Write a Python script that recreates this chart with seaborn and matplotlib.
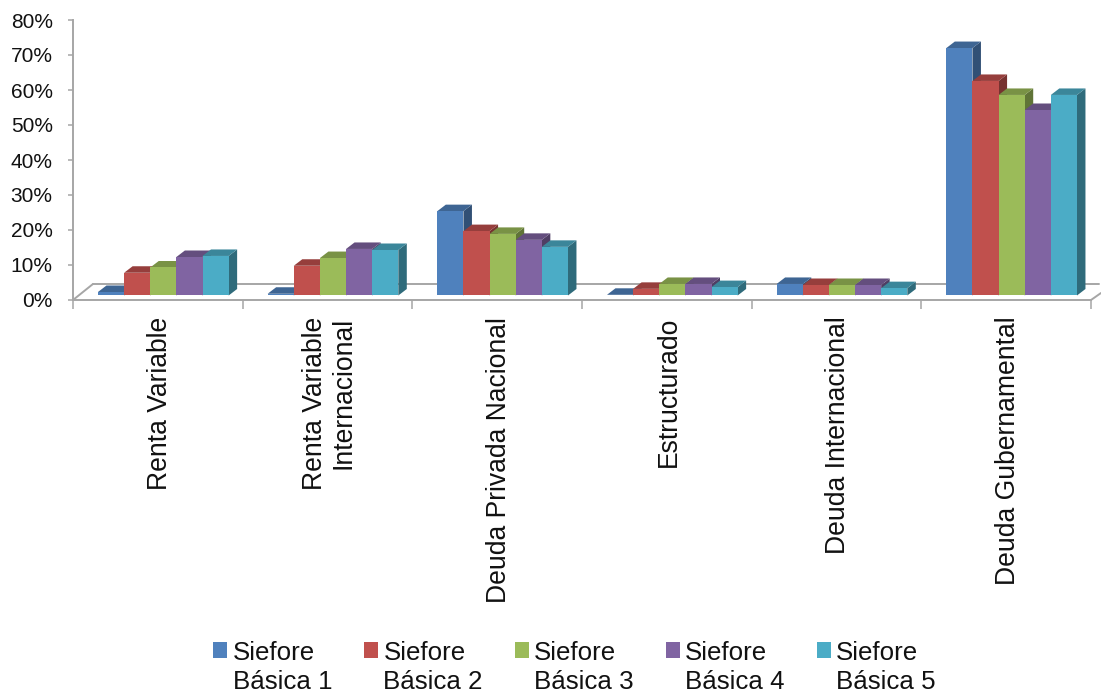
import pandas as pd
import matplotlib
matplotlib.use('Agg')
import matplotlib.pyplot as plt
import seaborn as sns

categories = ['Renta Variable', 'Renta Variable\nInternacional', 'Deuda Privada Nacional',
              'Estructurado', 'Deuda Internacional', 'Deuda Gubernamental']
series = ['Siefore\nBásica 1', 'Siefore\nBásica 2', 'Siefore\nBásica 3', 'Siefore\nBásica 4', 'Siefore\nBásica 5']
basica1 = [1.0, 0.5, 24.1, 0.2, 3.3, 70.7]
basica2 = [6.5, 8.5, 18.4, 1.9, 3.0, 61.3]
basica3 = [8.0, 10.7, 17.6, 3.3, 3.0, 57.3]
basica4 = [11.0, 13.3, 15.9, 3.3, 3.0, 53.0]
basica5 = [11.3, 13.0, 13.9, 2.4, 2.1, 57.3]
colors = ['#4F81BD', '#C0504D', '#9BBB59', '#8064A2', '#4BACC6']
yticks = [0, 10, 20, 30, 40, 50, 60, 70, 80]

W, H = 1101, 692
GREY = '#A6A6A6'
# sizes of the fake 3d in pixels
PX_X = 170.0   # one category
PX_Y = 3.5     # one percent
DEPTH_X = 8.5
DEPTH_Y = 6.5
LIFT = 4.5 / PX_Y  # bars stand a little behind the front edge of the floor
X0 = -(163.5 - 73) / PX_X


def shade(col, f):
    r, g, b = matplotlib.colors.to_rgb(col)
    return (r * f, g * f, b * f)


rows = []
for name, vals in zip(series, [basica1, basica2, basica3, basica4, basica5]):
    for cat, v in zip(categories, vals):
        rows.append({'cat': cat, 'serie': name, 'val': v})
df = pd.DataFrame(rows)

sns.set_style('white')
plt.rcParams['font.family'] = ['Liberation Sans', 'DejaVu Sans']
fig = plt.figure(figsize=(W / 100, H / 100), dpi=100)
ax = fig.add_axes([73 / W, 1 - 300 / H, (1091 - 73) / W, 280 / H])
sns.barplot(data=df, x='cat', y='val', hue='serie', palette=colors, saturation=1,
            width=0.77, gap=0, linewidth=0, ax=ax, zorder=20)

ax.set_xlim(X0, X0 + 6)
ax.set_ylim(0, 80)
dx = DEPTH_X / PX_X
dy = DEPTH_Y / PX_Y

# sides and tops, left to right so that the next bar covers the previous side
bars = []
for cont in ax.containers:
    for p in cont:
        bars.append(p)
bars.sort(key=lambda p: p.get_x())
for i, p in enumerate(bars):
    p.set_y(LIFT)
    col = p.get_facecolor()
    x, w, h = p.get_x(), p.get_width(), p.get_height()
    y0, y1 = LIFT, LIFT + h
    z = 5 + i * 0.01
    ax.fill([x + w, x + w + dx, x + w + dx, x + w], [y0, y0 + dy, y1 + dy, y1],
            color=shade(col[:3], 0.62), lw=0, zorder=z, clip_on=False)
    ax.fill([x, x + dx, x + w + dx, x + w], [y1, y1 + dy, y1 + dy, y1],
            color=shade(col[:3], 0.78), lw=0, zorder=z, clip_on=False)

# floor
back = (300 - 284) / PX_Y
ax.plot([X0 + 20 / PX_X, X0 + (1101 - 73) / PX_X], [back, back], color=GREY, lw=1.4, zorder=1, clip_on=False)
ax.plot([X0, X0 + 20 / PX_X], [0, back], color=GREY, lw=1.4, zorder=1, clip_on=False)
ax.plot([X0 + 6, X0 + 6 + 10 / PX_X], [0, 7 / PX_Y], color=GREY, lw=1.4, zorder=1, clip_on=False)

sns.despine(ax=ax)
ax.spines['left'].set_color(GREY)
ax.spines['bottom'].set_color(GREY)
ax.spines['left'].set_linewidth(1.4)
ax.spines['bottom'].set_linewidth(1.4)

ax.set_yticks(yticks)
ax.set_yticklabels([f'{t}%' for t in yticks], fontsize=15, color='#111111')
ax.tick_params(axis='y', left=True, length=3.6, width=1.1, color=GREY, pad=11)

# labels on the centre of each category, ticks on the edges
ax.set_xticks([X0 + i + 0.5 + 2 / PX_X for i in range(6)])
ax.set_xticklabels(categories, rotation=90, fontsize=19.1, color='#111111', ha='center', va='top',
                   multialignment='right', linespacing=1.1)
ax.tick_params(axis='x', bottom=False, length=0, pad=12)
ax.set_xticks([X0 + i for i in range(7)], minor=True)
ax.tick_params(axis='x', which='minor', bottom=True, length=6.5, width=1.1, color=GREY)
ax.set_xlabel('')
ax.set_ylabel('')

handles, labels = ax.get_legend_handles_labels()
leg = ax.legend(handles, labels, ncol=5, frameon=False, fontsize=18.6, loc='center',
                bbox_to_anchor=(574.5 / W, 1 - 667.5 / H), bbox_transform=fig.transFigure,
                borderpad=0, borderaxespad=0, handlelength=0.55, handleheight=0.55,
                handletextpad=0.2, columnspacing=1.24, labelspacing=0, labelcolor='#111111')
for t in leg.get_texts():
    t.set_linespacing(1.25)
for h in leg.legend_handles:
    h.set_y(h.get_y() + 13)

fig.savefig('out.png', dpi=100)
plt.close(fig)
